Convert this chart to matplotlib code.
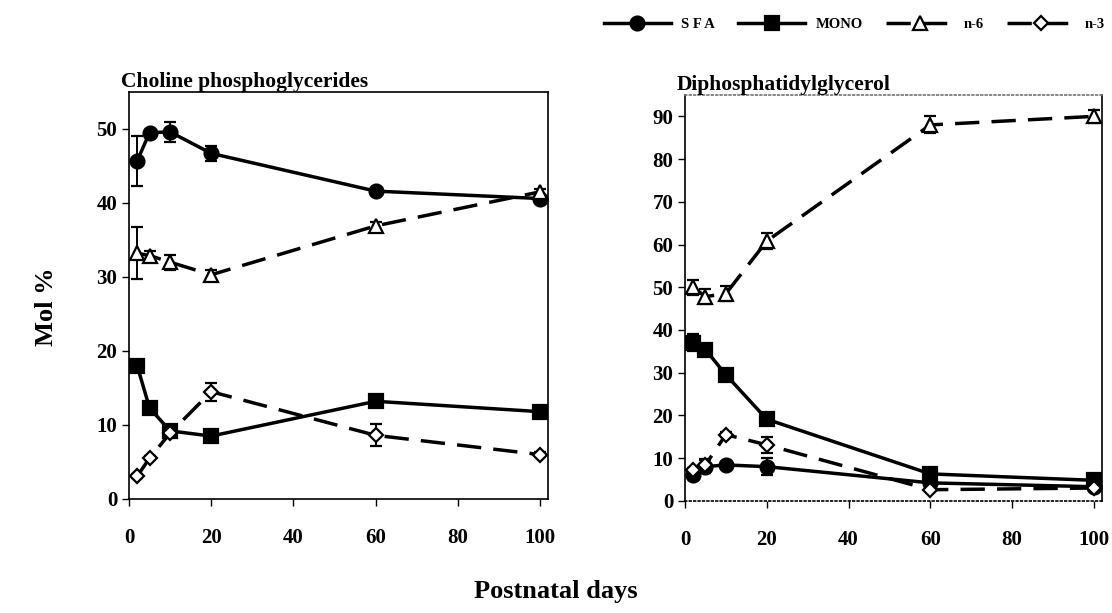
import numpy as np
import matplotlib
matplotlib.use("Agg")
import matplotlib.pyplot as plt
from matplotlib.lines import Line2D

plt.rcParams['font.family'] = ['Liberation Serif', 'DejaVu Serif']
plt.rcParams['font.weight'] = 'bold'

days = [2, 5, 10, 20, 60, 100]

# Choline phosphoglycerides
cpg_sfa = [45.7, 49.5, 49.6, 46.7, 41.6, 40.6]
cpg_sfa_err = [3.4, 0.4, 1.3, 1.0, 0.3, 0.4]
cpg_mono = [18.0, 12.3, 9.2, 8.5, 13.2, 11.8]
cpg_mono_err = [0.4, 0.4, 0.4, 0.3, 0.4, 0.3]
cpg_n6 = [33.2, 32.9, 32.0, 30.3, 36.9, 41.5]
cpg_n6_err = [3.5, 0.6, 1.0, 0.7, 0.5, 0.4]
cpg_n3 = [3.1, 5.5, 8.9, 14.5, 8.6, 6.0]
cpg_n3_err = [0.3, 0.3, 0.4, 1.2, 1.5, 0.3]

# Diphosphatidylglycerol
dpg_sfa = [6.1, 8.0, 8.4, 8.0, 4.2, 3.3]
dpg_sfa_err = [0.5, 1.5, 0.5, 2.0, 0.4, 0.4]
dpg_mono = [37.0, 35.4, 29.5, 19.1, 6.3, 4.8]
dpg_mono_err = [2.0, 0.6, 0.6, 0.6, 0.6, 0.5]
dpg_n6 = [50.0, 47.8, 48.5, 60.8, 88.0, 90.0]
dpg_n6_err = [1.8, 1.8, 1.8, 1.8, 2.0, 1.5]
dpg_n3 = [7.3, 8.4, 15.5, 13.1, 2.6, 3.0]
dpg_n3_err = [0.5, 1.5, 0.5, 1.8, 0.4, 0.4]

series_names = ['SFA', 'MONO', 'n-6', 'n-3']

fig = plt.figure(figsize=(11.12, 6.13), dpi=100)
ax1 = fig.add_axes([0.116, 0.186, 0.377, 0.664])
ax2 = fig.add_axes([0.616, 0.183, 0.375, 0.662])

dash = (0, (7, 3.5))
styles = [
    dict(marker='o', ls='-', mfc='black', ms=10),
    dict(marker='s', ls='-', mfc='black', ms=9.5),
    dict(marker='^', ls=dash, mfc='white', ms=10),
    dict(marker='D', ls=dash, mfc='white', ms=7.5),
]


def draw_panel(ax, data, title, ymax, yticks):
    for (vals, errs), st, name in zip(data, styles, series_names):
        ax.errorbar(days, vals, yerr=errs, color='black', lw=2.5,
                    capsize=4.5, elinewidth=1.4, capthick=1.4,
                    mec='black', mew=1.6, label=name, **st)
    ax.set_xlim(0, 102)
    ax.set_ylim(0, ymax)
    ax.set_xticks([0, 20, 40, 60, 80, 100])
    ax.set_yticks(yticks)
    ax.tick_params(labelsize=15, direction='out', length=5, width=1)
    ax.tick_params(axis='x', pad=16)
    ax.set_title(title, loc='left', x=-0.02, fontsize=15.5,
                 fontweight='bold', pad=2)
    for s in ax.spines.values():
        s.set_linewidth(1.2)


draw_panel(ax1, [(cpg_sfa, cpg_sfa_err), (cpg_mono, cpg_mono_err),
                 (cpg_n6, cpg_n6_err), (cpg_n3, cpg_n3_err)],
           'Choline phosphoglycerides', 55, [0, 10, 20, 30, 40, 50])
draw_panel(ax2, [(dpg_sfa, dpg_sfa_err), (dpg_mono, dpg_mono_err),
                 (dpg_n6, dpg_n6_err), (dpg_n3, dpg_n3_err)],
           'Diphosphatidylglycerol', 95, list(range(0, 91, 10)))
ax2.spines['top'].set_linestyle(':')
ax2.spines['top'].set_color('0.45')
ax2.spines['bottom'].set_linestyle(':')

fig.text(0.042, 0.50, 'Mol %', rotation=90, ha='center', va='center',
         fontsize=19, fontweight='bold')
fig.text(0.50, 0.035, 'Postnatal days', ha='center', va='center',
         fontsize=19, fontweight='bold')

# legend handles without the error bars
handles = [Line2D([], [], color='black', lw=2.5, mec='black', mew=1.6, **st)
           for st in styles]
fig.legend(handles, ['S F A', 'MONO', 'n-6', 'n-3'], loc='upper right',
           ncol=4, frameon=False, bbox_to_anchor=(1.005, 0.993), fontsize=10.5,
           handlelength=4.6, columnspacing=1.6, handletextpad=0.7,
           borderaxespad=0.5)

fig.savefig('out.png', dpi=100)
